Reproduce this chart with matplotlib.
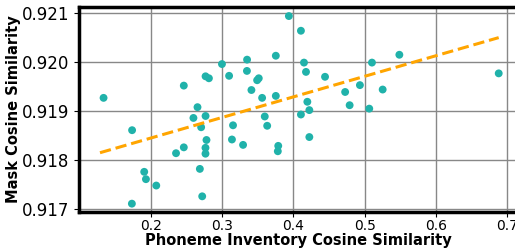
import numpy as np
import matplotlib
matplotlib.use("Agg")
import matplotlib.pyplot as plt

# phoneme inventory cosine similarity vs mask cosine similarity
phoneme_sim = [
    0.134, 0.2465, 0.2657, 0.260, 0.277, 0.277, 0.2817, 0.300, 0.3938,
    0.4107, 0.3352, 0.3755, 0.415, 0.4178, 0.335, 0.310, 0.3516, 0.3493,
    0.4445, 0.3413, 0.3563, 0.3755, 0.4727, 0.4934, 0.4197, 0.4225, 0.479,
    0.4107, 0.360, 0.5103, 0.5487, 0.688, 0.5253, 0.5065, 0.174, 0.2708,
    0.2783, 0.2769, 0.2769, 0.2465, 0.2356, 0.269, 0.191, 0.1934, 0.2079,
    0.2723, 0.1737, 0.3634, 0.3155, 0.314, 0.3296, 0.3789, 0.3783, 0.4225,
]
mask_sim = [
    0.91927, 0.91952, 0.91908, 0.91886, 0.91890, 0.91971, 0.91967, 0.91996,
    0.92094, 0.92064, 0.92005, 0.92013, 0.91999, 0.91980, 0.91982, 0.91972,
    0.91967, 0.91963, 0.91970, 0.91943, 0.91927, 0.91931, 0.91939, 0.91953,
    0.91919, 0.91902, 0.91912, 0.91893, 0.91889, 0.91999, 0.92015, 0.91977,
    0.91944, 0.91905, 0.91861, 0.91867, 0.91841, 0.91825, 0.91813, 0.91826,
    0.91814, 0.91782, 0.91776, 0.91761, 0.91748, 0.91726, 0.91711, 0.91870,
    0.91871, 0.91842, 0.91831, 0.91829, 0.91818, 0.91847,
]

# fitted trend line, endpoints
trend_x = [0.129, 0.688]
trend_y = [0.91815, 0.92050]

fig = plt.figure(figsize=(5.15, 2.5), dpi=100)
ax = fig.add_axes([0.154, 0.153, 0.849, 0.82])

ax.scatter(phoneme_sim, mask_sim, s=32, color="#20B2AA", zorder=3,
           edgecolors="none")
ax.plot(trend_x, trend_y, ls="--", color="orange", lw=2.2, zorder=4)

ax.set_xlim(0.1, 0.713)
ax.set_ylim(0.916945, 0.92113)
ax.set_xticks([0.2, 0.3, 0.4, 0.5, 0.6, 0.7])
ax.set_yticks([0.917, 0.918, 0.919, 0.920, 0.921])
ax.set_yticklabels(["0.917", "0.918", "0.919", "0.920", "0.921"])
ax.tick_params(axis="y", labelsize=12)
ax.tick_params(axis="x", labelsize=10, pad=2)

ax.set_xlabel("Phoneme Inventory Cosine Similarity", fontsize=10.5,
              fontweight="bold", labelpad=0)
ax.set_ylabel("Mask Cosine Similarity", fontsize=10.5, fontweight="bold",
              labelpad=1)
ax.grid(color="#888888", lw=1, zorder=0)
ax.set_axisbelow(True)
for s in ax.spines.values():
    s.set_linewidth(2.5)

fig.savefig("out.png", dpi=100)
